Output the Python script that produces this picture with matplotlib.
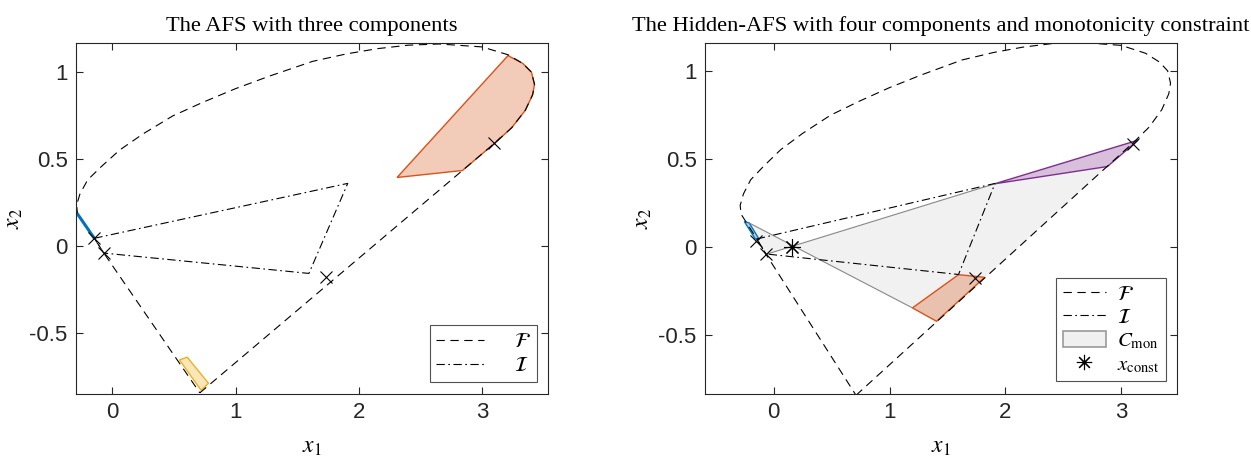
import numpy as np
import matplotlib
matplotlib.use("Agg")
import matplotlib.pyplot as plt
from matplotlib.lines import Line2D
from matplotlib.patches import Patch

plt.rcParams['mathtext.fontset'] = 'stix'
plt.rcParams['axes.unicode_minus'] = False
plt.rcParams['lines.scale_dashes'] = False

# boundary F of the feasible set (same in both panels)
F_x = [0.71, 2.88, 3.10, 3.24, 3.35, 3.41, 3.425, 3.40, 3.33, 3.21, 3.00, 2.65, 2.40, 2.15,
       1.90, 1.625, 1.27, 1.00, 0.73, 0.49, 0.25, 0.06, -0.09, -0.20, -0.262, -0.29, -0.282,
       -0.146, -0.069, 0.71]
F_y = [-0.845, 0.458, 0.59, 0.68, 0.78, 0.87, 0.93, 1.00, 1.05, 1.10, 1.145, 1.162, 1.155, 1.135,
       1.105, 1.062, 0.976, 0.905, 0.825, 0.748, 0.645, 0.552, 0.456, 0.38, 0.30, 0.235, 0.185,
       0.044, -0.041, -0.845]

# inner polygon I
I_x = [-0.146, 1.91, 1.595, -0.069, -0.146]
I_y = [0.044, 0.36, -0.158, -0.041, 0.044]

# left panel: three components
cross_left_x = [-0.146, -0.069, 1.737, 3.10]
cross_left_y = [0.044, -0.041, -0.177, 0.59]
blue_left_x = [-0.286, -0.146]
blue_left_y = [0.188, 0.044]
orange_left_x = [2.31, 2.84, 3.10, 3.24, 3.35, 3.41, 3.425, 3.40, 3.33, 3.21]
orange_left_y = [0.394, 0.434, 0.59, 0.68, 0.78, 0.87, 0.93, 1.00, 1.05, 1.095]
yellow_x = [0.545, 0.608, 0.78, 0.72]
yellow_y = [-0.656, -0.64, -0.79, -0.83]

# right panel: four components + monotonicity
cross_right_x = [-0.155, -0.069, 1.734, 3.104]
cross_right_y = [0.035, -0.041, -0.178, 0.587]
blue_right_x = [-0.254, -0.212, -0.124, -0.16]
blue_right_y = [0.143, 0.135, 0.04, 0.045]
orange_right_x = [1.197, 1.595, 1.82, 1.405]
orange_right_y = [-0.348, -0.159, -0.174, -0.424]
purple_x = [1.908, 3.145, 2.88]
purple_y = [0.358, 0.606, 0.456]
gray_x = [-0.212, 1.197, 1.405, 2.88, 1.908, -0.069, -0.124]
gray_y = [0.135, -0.348, -0.424, 0.456, 0.358, -0.044, 0.04]
const_x = [0.155]
const_y = [0.0]

blue = '#0072BD'
orange = '#D95319'
yellow = '#EDB120'
purple = '#7E2F8E'
axcol = '#262626'

dash = (0, (6, 4))
dashdot = (0, (6, 2.5, 1.2, 2.5))

fig = plt.figure(figsize=(12.51, 4.57), dpi=100)
ax1 = fig.add_axes([0.0608, 0.1385, 0.3775, 0.7668])
ax2 = fig.add_axes([0.5636, 0.1385, 0.3770, 0.7668])

# ---- left
ax1.plot(F_x, F_y, color='k', lw=0.8, linestyle=dash)
ax1.plot(I_x, I_y, color='k', lw=0.8, linestyle=dashdot)
ax1.fill(orange_left_x, orange_left_y, facecolor=orange, alpha=0.3, edgecolor='none')
ax1.fill(orange_left_x, orange_left_y, facecolor='none', edgecolor=orange, lw=1.0)
ax1.fill(yellow_x, yellow_y, facecolor=yellow, alpha=0.3, edgecolor='none')
ax1.fill(yellow_x, yellow_y, facecolor='none', edgecolor=yellow, lw=1.0)
ax1.plot(blue_left_x, blue_left_y, color=blue, lw=2.2, solid_capstyle='butt')
ax1.plot(cross_left_x, cross_left_y, 'x', color='k', ms=9, mew=0.8)
ax1.set_xlim(-0.294, 3.537)
ax1.set_ylim(-0.85, 1.166)
ax1.set_title('The AFS with three components', family='Liberation Serif', fontsize=16.2, pad=9)
leg1 = ax1.legend([Line2D([], [], color='k', lw=0.8, linestyle=dash),
                   Line2D([], [], color='k', lw=0.8, linestyle=dashdot)],
                  [r'$\mathcal{F}$', r'$\mathcal{I}$'],
                  loc='lower right', bbox_to_anchor=(0.9754, 0.0342), borderaxespad=0,
                  fancybox=False, edgecolor=axcol, fontsize=15, handlelength=2.3,
                  handletextpad=1.4, borderpad=0.3, labelspacing=0.2)
leg1.get_frame().set_linewidth(0.8)

# ---- right
ax2.fill(gray_x, gray_y, facecolor='#d8d8d8', alpha=0.35, edgecolor='none')
ax2.plot([gray_x[0], gray_x[1]], [gray_y[0], gray_y[1]], color='#888888', lw=0.8)
ax2.plot([gray_x[4], gray_x[5]], [gray_y[4], gray_y[5]], color='#888888', lw=0.8)
ax2.plot(F_x, F_y, color='k', lw=0.8, linestyle=dash)
ax2.plot(I_x, I_y, color='k', lw=0.8, linestyle=dashdot)
for px, py, c in [(orange_right_x, orange_right_y, orange),
                  (purple_x, purple_y, purple),
                  (blue_right_x, blue_right_y, blue)]:
    ax2.fill(px, py, facecolor=c, alpha=0.3, edgecolor='none')
    ax2.fill(px, py, facecolor='none', edgecolor=c, lw=1.0)
ax2.plot(cross_right_x, cross_right_y, 'x', color='k', ms=9, mew=0.8)
ax2.plot(const_x, const_y, marker=(8, 2, 0), color='k', ms=12, mew=0.8, linestyle='none')
ax2.plot(const_x, const_y, '.', color='k', ms=3)
ax2.set_xlim(-0.593, 3.478)
ax2.set_ylim(-0.836, 1.157)
ax2.set_title('The Hidden-AFS with four components and monotonicity constraint',
              family='Liberation Serif', fontsize=16.2, pad=9)
h_const = Line2D([], [], marker=(8, 2, 0), color='k', ms=11, mew=0.8, linestyle='none')
h_dot = Line2D([], [], marker='.', color='k', ms=3, linestyle='none')
leg2 = ax2.legend([Line2D([], [], color='k', lw=0.8, linestyle=dash),
                   Line2D([], [], color='k', lw=0.8, linestyle=dashdot),
                   Patch(facecolor='#f0f0f0', edgecolor='#999999', lw=1.2),
                   (h_const, h_dot)],
                  [r'$\mathcal{F}$', r'$\mathcal{I}$', r'$C_{\mathrm{mon}}$', r'$x_{\mathrm{const}}$'],
                  loc='lower right', bbox_to_anchor=(0.9767, 0.0363), borderaxespad=0,
                  fancybox=False, edgecolor=axcol, fontsize=15, handlelength=2.1,
                  handleheight=0.8, handletextpad=0.5, borderpad=0.3, labelspacing=0.15)
leg2.get_frame().set_linewidth(0.8)

for ax in (ax1, ax2):
    ax.set_xticks([0, 1, 2, 3])
    ax.set_xticklabels(['0', '1', '2', '3'])
    ax.set_yticks([-0.5, 0, 0.5, 1])
    ax.set_yticklabels(['-0.5', '0', '0.5', '1'])
    ax.tick_params(direction='in', top=True, right=True, length=5, width=0.8,
                   color=axcol, labelcolor=axcol, labelsize=16, pad=6)
    for lab in ax.get_xticklabels() + ax.get_yticklabels():
        lab.set_family('Liberation Sans')
    for s in ax.spines.values():
        s.set_color(axcol)
        s.set_linewidth(0.8)
    ax.set_xlabel(r'$x_1$', fontsize=17, labelpad=8)
    ax.set_ylabel(r'$x_2$', fontsize=17, labelpad=3)

fig.savefig('out.png', dpi=100)
